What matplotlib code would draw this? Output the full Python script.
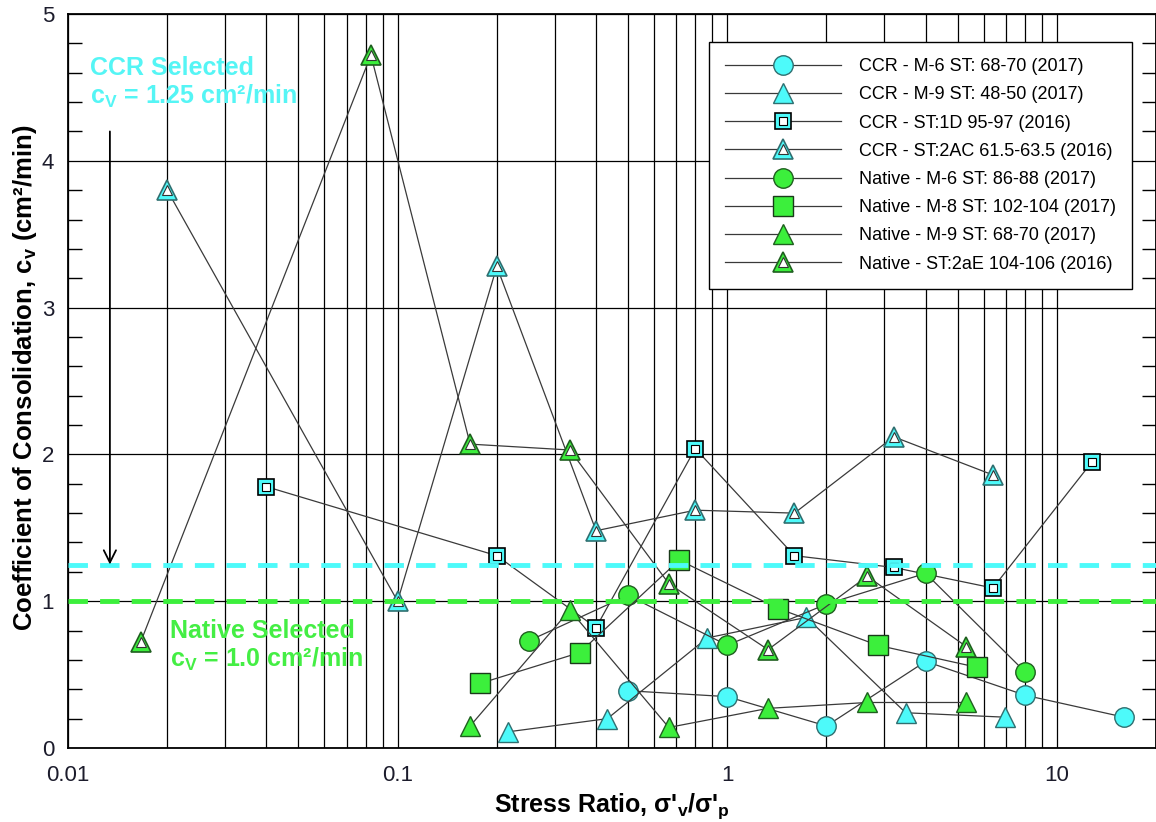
import matplotlib
matplotlib.use("Agg")
import matplotlib.pyplot as plt
from matplotlib.ticker import FixedLocator, MultipleLocator, NullFormatter

plt.rcParams['font.family'] = ['Liberation Sans', 'DejaVu Sans']
plt.rcParams['mathtext.fontset'] = 'custom'
plt.rcParams['mathtext.rm'] = 'Liberation Sans'
plt.rcParams['mathtext.bf'] = 'Liberation Sans:bold'
plt.rcParams['mathtext.it'] = 'Liberation Sans:italic'

# stress ratio / cv pairs per sample
ccr_m6_x = [0.5, 1.0, 2.0, 4.0, 8.0, 16.0]
ccr_m6_y = [0.39, 0.35, 0.15, 0.59, 0.36, 0.21]
ccr_m9_x = [0.216, 0.433, 0.87, 1.74, 3.48, 6.96]
ccr_m9_y = [0.11, 0.20, 0.75, 0.89, 0.24, 0.21]
ccr_1d_x = [0.04, 0.2, 0.4, 0.8, 1.6, 3.2, 6.4, 12.8]
ccr_1d_y = [1.78, 1.31, 0.82, 2.04, 1.31, 1.23, 1.09, 1.95]
ccr_2ac_x = [0.02, 0.1, 0.2, 0.4, 0.8, 1.6, 3.2, 6.4]
ccr_2ac_y = [3.80, 1.00, 3.28, 1.48, 1.62, 1.60, 2.12, 1.86]
nat_m6_x = [0.25, 0.5, 1.0, 2.0, 4.0, 8.0]
nat_m6_y = [0.73, 1.04, 0.70, 0.98, 1.19, 0.52]
nat_m8_x = [0.178, 0.357, 0.715, 1.43, 2.86, 5.72]
nat_m8_y = [0.44, 0.65, 1.28, 0.95, 0.70, 0.55]
nat_m9_x = [0.166, 0.333, 0.665, 1.33, 2.66, 5.32]
nat_m9_y = [0.15, 0.94, 0.14, 0.27, 0.31, 0.31]
nat_2ae_x = [0.0166, 0.083, 0.166, 0.333, 0.665, 1.33, 2.66, 5.32]
nat_2ae_y = [0.72, 4.72, 2.07, 2.03, 1.12, 0.67, 1.17, 0.69]

ccr_cv = 1.25
native_cv = 1.0

cyan = '#4dfafa'
cyan_edge = '#2f6f70'
green = '#3cef3c'
green_edge = '#1f5f1f'
line_c = '#3a3a3a'

fig = plt.figure(figsize=(11.56, 8.22), dpi=100)
ax = fig.add_axes([68/1156, 1 - 748/822, 1088/1156, 734/822])
ax.set_xscale('log')
ax.set_xlim(0.01, 20)
ax.set_ylim(0, 5)

# grid: every log subdivision in x, whole units in y
xg = [m * 10.0**e for e in (-2, -1, 0, 1) for m in range(1, 10)]
ax.xaxis.set_major_locator(FixedLocator([0.01, 0.1, 1, 10]))
ax.xaxis.set_minor_locator(FixedLocator([v for v in xg if v not in (0.01, 0.1, 1, 10)]))
ax.xaxis.set_minor_formatter(NullFormatter())
ax.set_xticklabels(['0.01', '0.1', '1', '10'])
ax.yaxis.set_major_locator(MultipleLocator(1))
ax.yaxis.set_minor_locator(MultipleLocator(0.2))
ax.grid(which='both', axis='x', color='black', lw=0.9, zorder=0)
ax.grid(which='major', axis='y', color='black', lw=0.9, zorder=0)
ax.tick_params(axis='x', which='both', length=0, labelsize=16, pad=12, labelcolor='#1c1c2c')
ax.tick_params(axis='y', which='major', length=0, labelsize=16, pad=10, labelcolor='#1c1c2c')
ax.tick_params(axis='y', which='minor', direction='in', length=10, width=1.0,
               left=True, right=True)
for s in ax.spines.values():
    s.set_linewidth(1.3)
ax.set_axisbelow(True)

def series(x, y, marker, face, edge, ms, label):
    h, = ax.plot(x, y, color=line_c, lw=0.9, marker=marker, ms=ms,
                 mfc=face, mec=edge, mew=1.0, zorder=3, label=label)
    return h

def open_series(x, y, marker, face, edge, ms, inner_ms, inner_edge, label):
    h, = ax.plot(x, y, color=line_c, lw=0.9, marker=marker, ms=ms,
                 mfc=face, mec=edge, mew=1.2, zorder=3)
    hi, = ax.plot(x, y, ls='none', marker=marker, ms=inner_ms,
                  mfc='white', mec=inner_edge, mew=0.8, zorder=4)
    return (h, hi)

h1 = series(ccr_m6_x, ccr_m6_y, 'o', cyan, cyan_edge, 14, 'CCR - M-6 ST: 68-70 (2017)')
h2 = series(ccr_m9_x, ccr_m9_y, '^', cyan, cyan_edge, 14, 'CCR - M-9 ST: 48-50 (2017)')
h3 = open_series(ccr_1d_x, ccr_1d_y, 's', cyan, 'black', 12, 5.5, 'black', 'CCR - ST:1D 95-97 (2016)')
h4 = open_series(ccr_2ac_x, ccr_2ac_y, '^', cyan, cyan_edge, 15, 6.5, '#333333', 'CCR - ST:2AC 61.5-63.5 (2016)')
h5 = series(nat_m6_x, nat_m6_y, 'o', green, green_edge, 14, 'Native - M-6 ST: 86-88 (2017)')
h6 = series(nat_m8_x, nat_m8_y, 's', green, '#1a3a1a', 14, 'Native - M-8 ST: 102-104 (2017)')
h7 = series(nat_m9_x, nat_m9_y, '^', green, green_edge, 14, 'Native - M-9 ST: 68-70 (2017)')
h8 = open_series(nat_2ae_x, nat_2ae_y, '^', green, green_edge, 15, 6.5, '#333333', 'Native - ST:2aE 104-106 (2016)')

labels = ['CCR - M-6 ST: 68-70 (2017)', 'CCR - M-9 ST: 48-50 (2017)',
          'CCR - ST:1D 95-97 (2016)', 'CCR - ST:2AC 61.5-63.5 (2016)',
          'Native - M-6 ST: 86-88 (2017)', 'Native - M-8 ST: 102-104 (2017)',
          'Native - M-9 ST: 68-70 (2017)', 'Native - ST:2aE 104-106 (2016)']

# selected design values
ax.axhline(ccr_cv, color=cyan, lw=3.5, ls=(0, (4, 2.5)), zorder=5)
ax.axhline(native_cv, color=green, lw=3.5, ls=(0, (4, 2.5)), zorder=5)

ax.annotate('', xy=(0.0134, ccr_cv), xytext=(0.0134, 4.2),
            arrowprops=dict(arrowstyle='->', lw=1.3, color='black',
                            mutation_scale=22, shrinkA=0, shrinkB=0), zorder=6)

ax.text(0.0117, 4.715, 'CCR Selected\nc$_\\mathbf{V}$ = 1.25 cm²/min', color='#55f5f5',
        fontsize=18, fontweight='bold', va='top', ha='left', linespacing=1.15, zorder=6)
ax.text(0.0204, 0.88, 'Native Selected\nc$_\\mathbf{V}$ = 1.0 cm²/min', color='#44ee44',
        fontsize=18, fontweight='bold', va='top', ha='left', linespacing=1.15, zorder=6)

leg = ax.legend([h1, h2, h3, h4, h5, h6, h7, h8], labels, loc='upper right',
                bbox_to_anchor=(0.978, 0.962), borderaxespad=0, fontsize=13,
                handlelength=6.4, numpoints=1, labelspacing=0.62, fancybox=False,
                edgecolor='black', framealpha=1, borderpad=0.9, handletextpad=1.0)
leg.get_frame().set_linewidth(1.0)
leg.set_zorder(10)

ax.set_xlabel("Stress Ratio, σ'$_\\mathbf{v}$/σ'$_\\mathbf{p}$", fontsize=18,
              fontweight='bold', labelpad=4)
ax.set_ylabel('Coefficient of Consolidation, c$_\\mathbf{v}$ (cm²/min)', fontsize=18.5,
              fontweight='bold')
ax.yaxis.set_label_coords(-0.027, 0.505)

fig.savefig('out.png', dpi=100)
